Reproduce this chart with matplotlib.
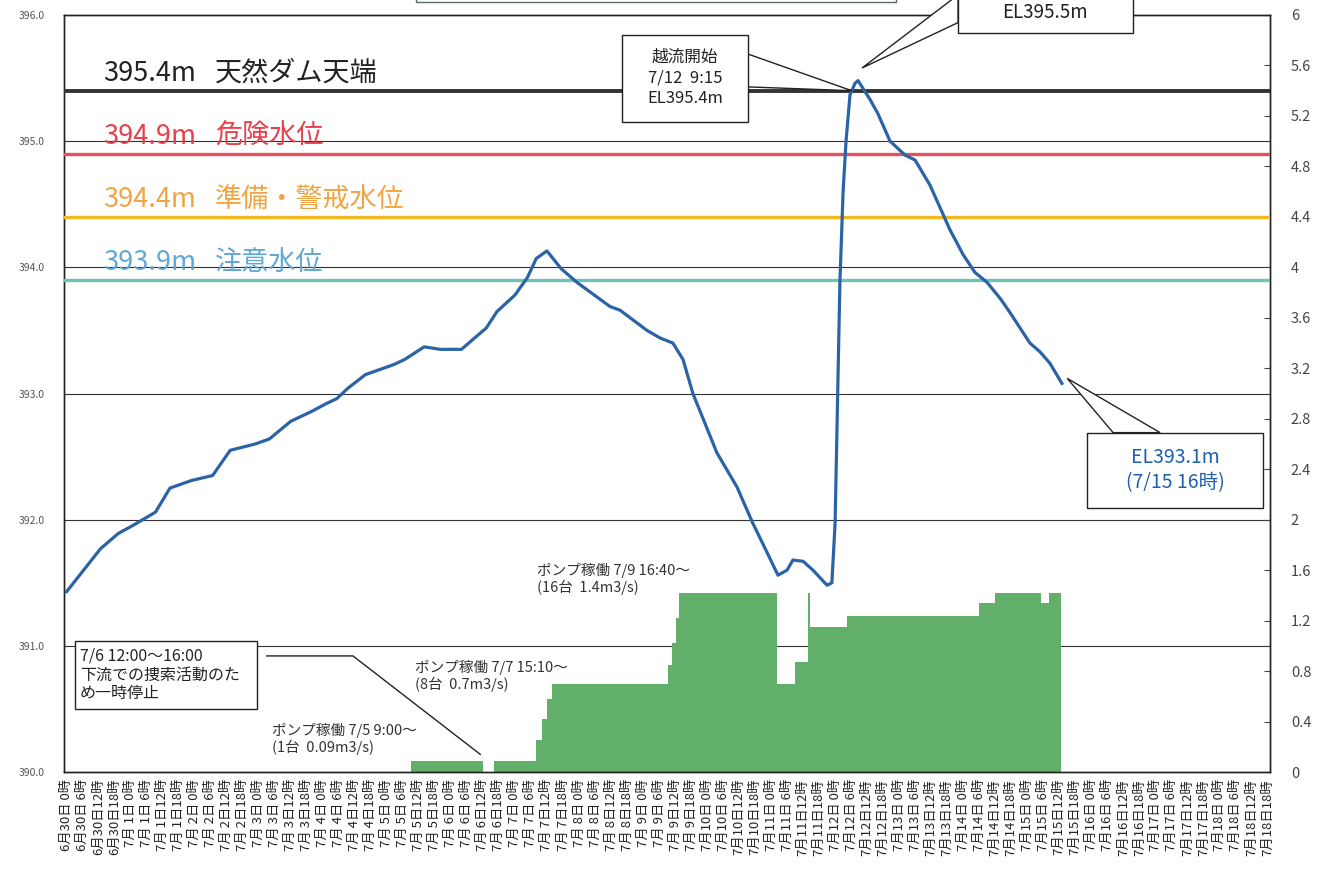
import numpy as np
import matplotlib.pyplot as plt
from matplotlib.patches import Polygon, Rectangle

plt.rcParams['font.family'] = ['Noto Sans CJK JP', 'DejaVu Sans']

# water level, hours counted from 6/30 0:00
level_hours = [0, 12.7, 19.3, 25.3, 33.3, 38.7, 46.7, 54.7, 61.3, 70.7, 76, 84, 92, 97.3,
               101.3, 105.3, 112, 122.7, 126.7, 134, 140, 148, 150.7, 157.3, 161.3, 168,
               172.7, 176, 180, 185.3, 191.3, 203.6, 207.4, 217.5, 222.4, 227.2, 231,
               234.7, 243.7, 251.2, 257.2, 262.5, 266.6, 270, 272.2, 276, 279.7, 285,
               286.8, 288, 289.8, 291, 292.1, 293.6, 295.5, 296.6, 301.1, 304, 308.6,
               314.2, 318, 323.6, 331, 336, 340.4, 345, 350, 353.6, 361, 364.8, 368.5,
               373]
level_values = [391.43, 391.77, 391.89, 391.96, 392.06, 392.25, 392.31, 392.35, 392.55,
                392.60, 392.64, 392.78, 392.86, 392.92, 392.96, 393.04, 393.15, 393.23,
                393.27, 393.37, 393.35, 393.35, 393.40, 393.52, 393.65, 393.78, 393.92,
                394.07, 394.13, 393.99, 393.88, 393.69, 393.66, 393.50, 393.44, 393.40,
                393.27, 393.00, 392.53, 392.26, 391.97, 391.74, 391.56, 391.60, 391.68,
                391.67, 391.60, 391.48, 391.50, 391.97, 393.88, 394.60, 395.00, 395.37,
                395.46, 395.48, 395.33, 395.22, 395.00, 394.89, 394.85, 394.65, 394.30,
                394.10, 393.96, 393.88, 393.75, 393.64, 393.40, 393.33, 393.24, 393.08]

# pump discharge (m3/s), step values starting at each hour
pump_hours = [0, 129, 156, 160, 176, 178, 180, 182, 225.4, 227, 228.3, 229.5, 266.2,
              273, 277.7, 278.5, 292.5, 342, 348, 365.2, 368.2, 372.7]
pump_flow = [0, 0.09, 0, 0.09, 0.25, 0.42, 0.58, 0.70, 0.85, 1.02, 1.22, 1.42, 0.70,
             0.87, 1.42, 1.15, 1.24, 1.34, 1.42, 1.34, 1.42, 0]

thresholds = [395.4, 394.9, 394.4, 393.9]
threshold_names = ['天然ダム天端', '危険水位', '準備・警戒水位', '注意水位']
line_colors = ['#333333', '#e8505c', '#f5b820', '#6cc4b4']
text_colors = ['#222222', '#e8404c', '#f2a444', '#5fa8d8']

days = [(6, 30)] + [(7, d) for d in range(1, 19)]
tick_hours = np.arange(0, 451, 6)
tick_labels = [f"{m}月{d:>2}日{h:>2}時" for m, d in days for h in (0, 6, 12, 18)]

pump_notes = [(77, 390.26, 'ポンプ稼働 7/5 9:00～\n(1台  0.09m3/s)'),
              (130.5, 390.76, 'ポンプ稼働 7/7 15:10～\n(8台  0.7m3/s)'),
              (176.3, 391.53, 'ポンプ稼働 7/9 16:40～\n(16台  1.4m3/s)')]

fig = plt.figure(figsize=(13.3, 8.85), dpi=100)
ax = fig.add_axes([64 / 1330, 1 - 772 / 885, 1206 / 1330, 757 / 885])
ax2 = ax.twinx()
ax.set_zorder(ax2.get_zorder() + 1)
ax.patch.set_visible(False)

# pump discharge on the right axis, gridlines under it
for g in range(1, 6):
    ax2.axhline(g, color='#333333', lw=0.8, zorder=1)
ax2.fill_between(pump_hours, pump_flow, step='post', color='#62af69', lw=0, zorder=2)
ax2.set_ylim(0, 6)
rticks = np.round(np.arange(0, 6.01, 0.4), 1)
ax2.set_yticks(rticks)
ax2.set_yticklabels([f"{v:g}" for v in rticks])
ax2.tick_params(axis='y', direction='in', length=4, pad=15, labelsize=10.5,
                labelcolor='#444444', color='#444444')

# threshold lines
for val, name, lc, tc in zip(thresholds, threshold_names, line_colors, text_colors):
    ax.axhline(val, color=lc, lw=2.8 if val == 395.4 else 2.4, zorder=3)
    ax.text(13.6, val + 0.14, f"{val:.1f}m", color=tc, fontsize=19.5, va='center')
    ax.text(55.6, val + 0.14, name, color=tc, fontsize=19.5, va='center')

ax.plot(level_hours, level_values, color='#2b64a6', lw=2.3, zorder=5)

for x, y, s in pump_notes:
    ax.text(x, y, s, fontsize=10.5, color='#333333', va='center', linespacing=1.15)

# 7/6 pause note
ax.add_patch(Rectangle((3.2, 390.50), 68.2, 0.54, fc='white', ec='#222222', lw=1, zorder=6))
ax.text(5, 390.77, '7/6 12:00～16:00\n下流での捜索活動のた\nめ一時停止', fontsize=11.5,
        va='center', linespacing=1.15, color='#222222', zorder=7)
ax.plot([75, 107.3, 155], [390.92, 390.92, 390.14], color='#222222', lw=1, zorder=6)

# callout: overflow start
peak = int(np.argmax(level_values))
rise_start = int(np.argmin(level_values[:peak]))
cross_h = np.interp(395.4, level_values[rise_start:peak + 1], level_hours[rise_start:peak + 1])
ax.add_patch(Polygon([(255.4, 395.69), (cross_h, 395.4), (255.4, 395.43)], closed=True,
                     fc='white', ec='#222222', lw=1, zorder=6))
ax.add_patch(Rectangle((208.1, 395.15), 47.3, 0.69, fc='white', ec='#222222', lw=1, zorder=7))
ax.text(231.7, 395.50, '越流開始\n7/12  9:15\nEL395.4m', fontsize=12, ha='center',
        va='center', linespacing=1.3, color='#222222', zorder=8)

# callout: peak
tip = (level_hours[peak] + 1.5, level_values[peak] + 0.1)
ax.add_patch(Polygon([(334.1, 396.16), tip, (334.1, 395.94)], closed=True, fc='white',
                     ec='#222222', lw=1, zorder=6, clip_on=False))
ax.add_patch(Rectangle((334.1, 395.86), 65.6, 0.6, fc='white', ec='#222222', lw=1,
                       zorder=7, clip_on=False))
ax.text(366.7, 396.02, f"EL{level_values[peak]:.1f}m", fontsize=13.5, ha='center',
        va='center', color='#222222', zorder=8, clip_on=False)

# callout: latest value
tip = (level_hours[-1] + 2, level_values[-1] + 0.04)
ax.add_patch(Polygon([(392.2, 392.69), tip, (409.8, 392.69)], closed=True, fc='white',
                     ec='#222222', lw=1, zorder=6))
ax.add_patch(Rectangle((382.4, 392.09), 66, 0.6, fc='white', ec='#222222', lw=1, zorder=7))
ax.text(415.4, 392.39, f"EL{level_values[-1]:.1f}m\n(7/15 16時)", fontsize=14,
        ha='center', va='center', linespacing=1.25, color='#1f5fb0', zorder=8)

# box cut off at the top
ax.add_patch(Rectangle((130.9, 396.10), 179.9, 0.5, fc='white', ec='#5a6a6a', lw=1,
                       zorder=7, clip_on=False))

ax.set_xlim(-1, 451)
ax.set_ylim(390, 396)
ax.set_yticks(np.arange(390, 396.1, 1))
ax.set_yticklabels([f"{v:.1f}" for v in np.arange(390, 396.1, 1)])
ax.tick_params(axis='y', length=0, pad=14, labelsize=7.5, labelcolor='#555555')
ax.set_xticks(tick_hours)
ax.set_xticklabels(tick_labels, rotation=90, fontsize=9.5, va='top', ha='center',
                   color='#222222')
ax.tick_params(axis='x', length=0, pad=5)
for sp in list(ax.spines.values()) + list(ax2.spines.values()):
    sp.set_color('#222222')
    sp.set_linewidth(1)

fig.savefig('out.png', dpi=100)
